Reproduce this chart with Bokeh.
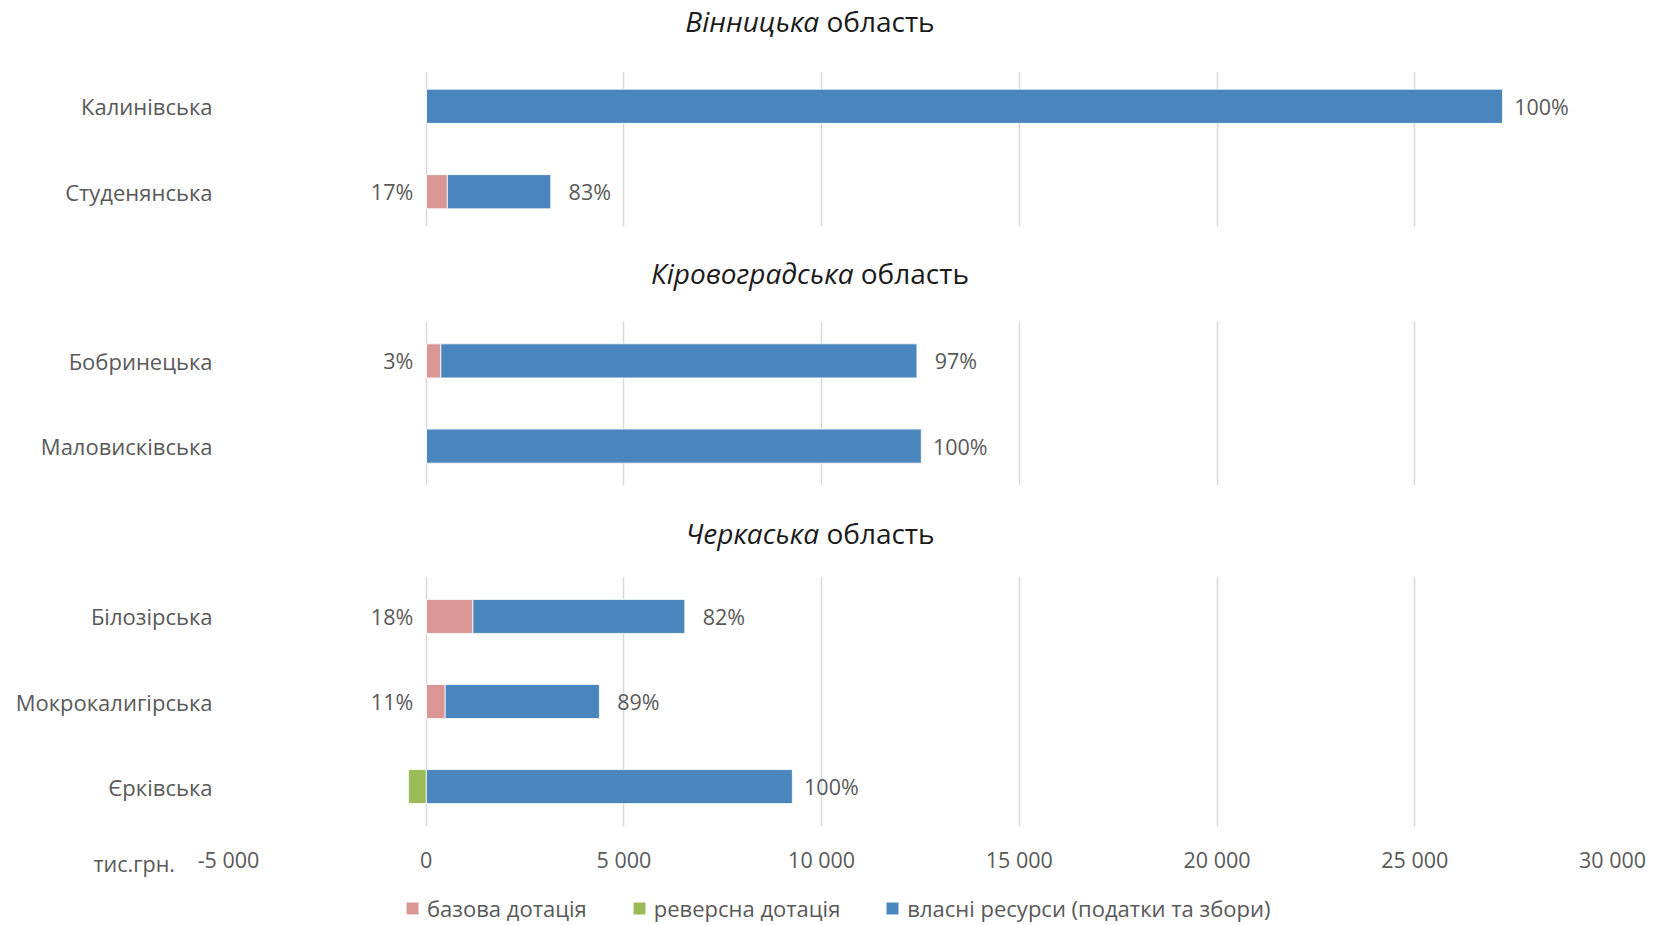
from bokeh.plotting import figure
from bokeh.models import (FactorRange, Range1d, FixedTicker, Div, Legend, LegendItem,
                          Title, ColumnDataSource)
from bokeh.layouts import column
from bokeh.embed import file_html
from bokeh.resources import INLINE
from bokeh.core.properties import value

# ---------------- data ----------------
region_names = ["Вінницька", "Кіровоградська", "Черкаська"]
region_suffix = "область"

vin_names = ["Калинівська", "Студенянська"]
vin_base = [0, 535]
vin_reverse = [0, 0]
vin_own = [27220, 2615]
vin_base_pct = ["", "17%"]
vin_own_pct = ["100%", "83%"]

kir_names = ["Бобринецька", "Маловисківська"]
kir_base = [370, 0]
kir_reverse = [0, 0]
kir_own = [12040, 12520]
kir_base_pct = ["3%", ""]
kir_own_pct = ["97%", "100%"]

che_names = ["Білозірська", "Мокрокалигірська", "Єрківська"]
che_base = [1180, 480, 0]
che_reverse = [0, 0, -450]
che_own = [5360, 3900, 9260]
che_base_pct = ["18%", "11%", ""]
che_own_pct = ["82%", "89%", "100%"]

series_names = ["базова дотація", "реверсна дотація", "власні ресурси (податки та збори)"]
tick_values = [-5000, 0, 5000, 10000, 15000, 20000, 25000, 30000]
tick_labels = ["-5 000", "0", "5 000", "10 000", "15 000", "20 000", "25 000", "30 000"]
unit_label = "тис.грн."

# ---------------- style ----------------
FONT = "Open Sans"
C_BASE = "#D99694"
C_REV = "#9BBB59"
C_OWN = "#4A86BD"
TXT = "#595959"
GRID = "#D9D9D9"
WIDTH = 1647
x_range = Range1d(-5000, 30000)


def title_div(name, height, line_h):
    return Div(text=f'<span style="font-style:italic">{name}</span> {region_suffix}',
               width=1620, height=height, margin=(0, 0, 0, 0),
               styles={"font-family": FONT, "font-size": "28px", "line-height": f"{line_h}px",
                       "text-align": "center", "color": "#1a1a1a", "white-space": "nowrap"})


def make_source(names, base, reverse, own, base_pct, own_pct):
    return ColumnDataSource(dict(cat=names, base=base, reverse=reverse, own=own,
                                 total=[b + o for b, o in zip(base, own)],
                                 zero=[0] * len(names), base_pct=base_pct, own_pct=own_pct))


def add_bars(p, src, visible=True):
    rs = p.hbar_stack(["base", "own"], y="cat", height=0.40, color=[C_BASE, C_OWN],
                      line_color="white", line_width=0.8, source=src, visible=visible)
    rr = p.hbar(y="cat", left="reverse", right="zero", height=0.40, color=C_REV,
                line_color="white", line_width=0.8, source=src, visible=visible)
    return rs, rr


def panel(src, names, height, top, bottom, pad, show_x):
    p = figure(width=WIDTH, height=height, x_range=x_range,
               y_range=FactorRange(factors=list(reversed(names)), range_padding=pad,
                                   range_padding_units="absolute"),
               output_backend="svg", toolbar_location=None,
               x_axis_location="below" if show_x else None,
               min_border_left=228, min_border_right=35, min_border_top=top,
               min_border_bottom=bottom, background_fill_color="white",
               border_fill_color="white")
    p.outline_line_color = None
    add_bars(p, src)
    p.text(x="zero", y="cat", text="base_pct", x_offset=-13, text_align="right",
           text_baseline="middle", text_font=value(FONT), text_font_size="21.5px",
           text_color=TXT, source=src)
    p.text(x="total", y="cat", text="own_pct", x_offset=39, text_align="center",
           text_baseline="middle", text_font=value(FONT), text_font_size="21.5px",
           text_color=TXT, source=src)
    p.ygrid.visible = False
    p.xgrid.ticker = FixedTicker(ticks=tick_values)
    p.xgrid.grid_line_color = GRID
    p.xgrid.grid_line_width = 1.5
    ya = p.yaxis[0]
    ya.axis_line_color = None
    ya.major_tick_line_color = None
    ya.minor_tick_line_color = None
    ya.major_label_standoff = 10
    ya.major_label_text_font = FONT
    ya.major_label_text_font_size = "22px"
    ya.major_label_text_color = TXT
    if show_x:
        xa = p.xaxis[0]
        xa.ticker = FixedTicker(ticks=tick_values)
        xa.major_label_overrides = {v: l for v, l in zip(tick_values, tick_labels)}
        xa.axis_line_color = None
        xa.major_tick_line_color = None
        xa.minor_tick_line_color = None
        xa.major_label_standoff = 12
        xa.major_label_text_font = FONT
        xa.major_label_text_font_size = "21.5px"
        xa.major_label_text_color = TXT
    return p


src1 = make_source(vin_names, vin_base, vin_reverse, vin_own, vin_base_pct, vin_own_pct)
src2 = make_source(kir_names, kir_base, kir_reverse, kir_own, kir_base_pct, kir_own_pct)
src3 = make_source(che_names, che_base, che_reverse, che_own, che_base_pct, che_own_pct)

p1 = panel(src1, vin_names, 200, 23, 22, -0.093, False)
p2 = panel(src2, kir_names, 210, 23, 23, -0.038, False)
p3 = panel(src3, che_names, 324, 18, 56, -0.031, True)

# unit caption on the tick-label row
p3.add_layout(Title(text=unit_label, align="left", offset=-135, standoff=-56,
                    vertical_align="top", text_font=FONT, text_font_size="21.5px",
                    text_font_style="normal", text_color=TXT), "below")

# legend strip (series renderers kept hidden, legend keys only)
p4 = figure(width=WIDTH, height=41, x_range=x_range,
            y_range=FactorRange(factors=list(reversed(che_names))),
            output_backend="svg", toolbar_location=None, x_axis_location=None,
            y_axis_location=None, min_border=0, background_fill_color="white",
            border_fill_color="white")
p4.outline_line_color = None
p4.grid.visible = False
rs4, rr4 = add_bars(p4, src3, visible=False)
legend = Legend(items=[LegendItem(label=series_names[0], renderers=[rs4[0]]),
                       LegendItem(label=series_names[1], renderers=[rr4]),
                       LegendItem(label=series_names[2], renderers=[rs4[1]])],
                orientation="horizontal", location=(176, 0),
                label_text_font=FONT, label_text_font_size="22px", label_text_color=TXT,
                glyph_width=16, glyph_height=16, label_standoff=7, spacing=44,
                padding=0, margin=0, border_line_alpha=0, background_fill_alpha=0)
p4.add_layout(legend, "center")

layout = column(title_div(region_names[0], 48, 42), p1,
                title_div(region_names[1], 50, 50), p2,
                title_div(region_names[2], 50, 50), p3, p4, spacing=0)

open("out.html", "w").write(file_html(layout, INLINE))
